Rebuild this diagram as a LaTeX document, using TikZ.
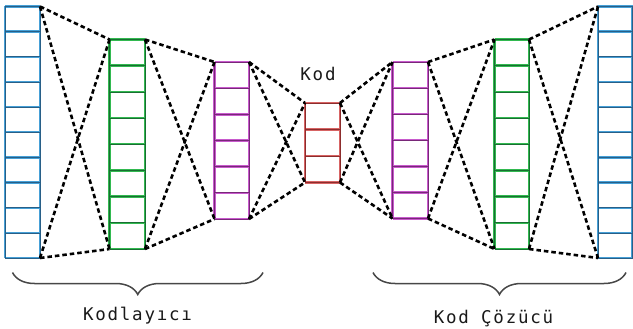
\documentclass[tikz,border=0pt]{standalone}
\usepackage{fontspec}
\setmonofont{DejaVu Sans Mono}
\usetikzlibrary{decorations.pathreplacing}

\definecolor{bluelt}{RGB}{70,160,215}
\definecolor{bluedk}{RGB}{40,95,135}
\definecolor{greenlt}{RGB}{50,185,80}
\definecolor{greendk}{RGB}{25,110,50}
\definecolor{purplelt}{RGB}{200,90,205}
\definecolor{purpledk}{RGB}{120,40,120}
\definecolor{redlt}{RGB}{215,100,100}
\definecolor{reddk}{RGB}{140,45,45}

\tikzset{
  layerbox/.style={draw=none, inner sep=0pt, outer sep=0pt},
  conn/.style={draw=black, line width=2.6pt, dash pattern=on 4.5pt off 3pt},
  bracket/.style={draw=black!72, line width=1.5pt, decorate,
    decoration={brace, mirror, amplitude=22pt, aspect=0.5}},
  lbl/.style={font=\ttfamily\fontsize{17.5}{18}\selectfont\addfontfeature{LetterSpace=10},
    anchor=base, inner sep=0pt, text=black!90},
}

% one layer of the network: name, left, right, top, bottom, cells, light, dark
\newcommand\netlayer[8]{%
  \pgfmathsetmacro\lcx{(#2+#3)/2}%
  \pgfmathsetmacro\lcy{(#4+#5)/2}%
  \node[layerbox, minimum width={#3-#2}, minimum height={#5-#4}] (#1) at (\lcx,\lcy) {};
  \foreach \col/\wd in {#7/2.4, #8/0.7}{
    \draw[\col, line width=\wd pt] (#2,#4) -- (#2,#5) (#3,#4) -- (#3,#5);
    \foreach \i in {0,...,#6}{
      \pgfmathsetmacro\yy{#4+\i*(#5-#4)/#6}
      \draw[\col, line width=\wd pt] (#2,\yy) -- (#3,\yy);
    }
  }
}

\begin{document}
\begin{tikzpicture}[x=1pt, y=-1pt]
  \useasboundingbox (0,0) rectangle (633,329);

  % encoder / code / decoder layers
  \netlayer{L1}{5}{40}{6.5}{258}{10}{bluelt}{bluedk}
  \netlayer{L2}{109.5}{145}{39.5}{249}{8}{greenlt}{greendk}
  \netlayer{L3}{214.5}{249}{62}{219}{6}{purplelt}{purpledk}
  \netlayer{L4}{305}{340}{103}{182.5}{3}{redlt}{reddk}
  \netlayer{L5}{392.5}{428}{62}{218.5}{6}{purplelt}{purpledk}
  \netlayer{L6}{494.5}{529}{39.5}{249}{8}{greenlt}{greendk}
  \netlayer{L7}{598}{632.5}{6.5}{258}{10}{bluelt}{bluedk}

  % dashed links between consecutive layers
  \foreach \a/\b in {L1/L2, L2/L3, L3/L4, L4/L5, L5/L6, L6/L7}{
    \draw[conn] (\a.north east) -- (\b.north west);
    \draw[conn] (\a.south east) -- (\b.south west);
    \draw[conn] (\a.north east) -- (\b.south west);
    \draw[conn] (\a.south east) -- (\b.north west);
  }

  % labels
  \node[lbl] (kod) at (318,80.5) {Kod};

  \coordinate (encl) at (12.5,272.5);
  \coordinate (encr) at (263,272.5);
  \draw[bracket] (encl) -- (encr);
  \node[lbl] (enc) at (137.5,320.5) {Kodlayıcı};

  \coordinate (decl) at (373,272.5);
  \coordinate (decr) at (626,272.5);
  \draw[bracket] (decl) -- (decr);
  \node[lbl] (dec) at (493.5,323.5) {Kod Çözücü};
\end{tikzpicture}
\end{document}
